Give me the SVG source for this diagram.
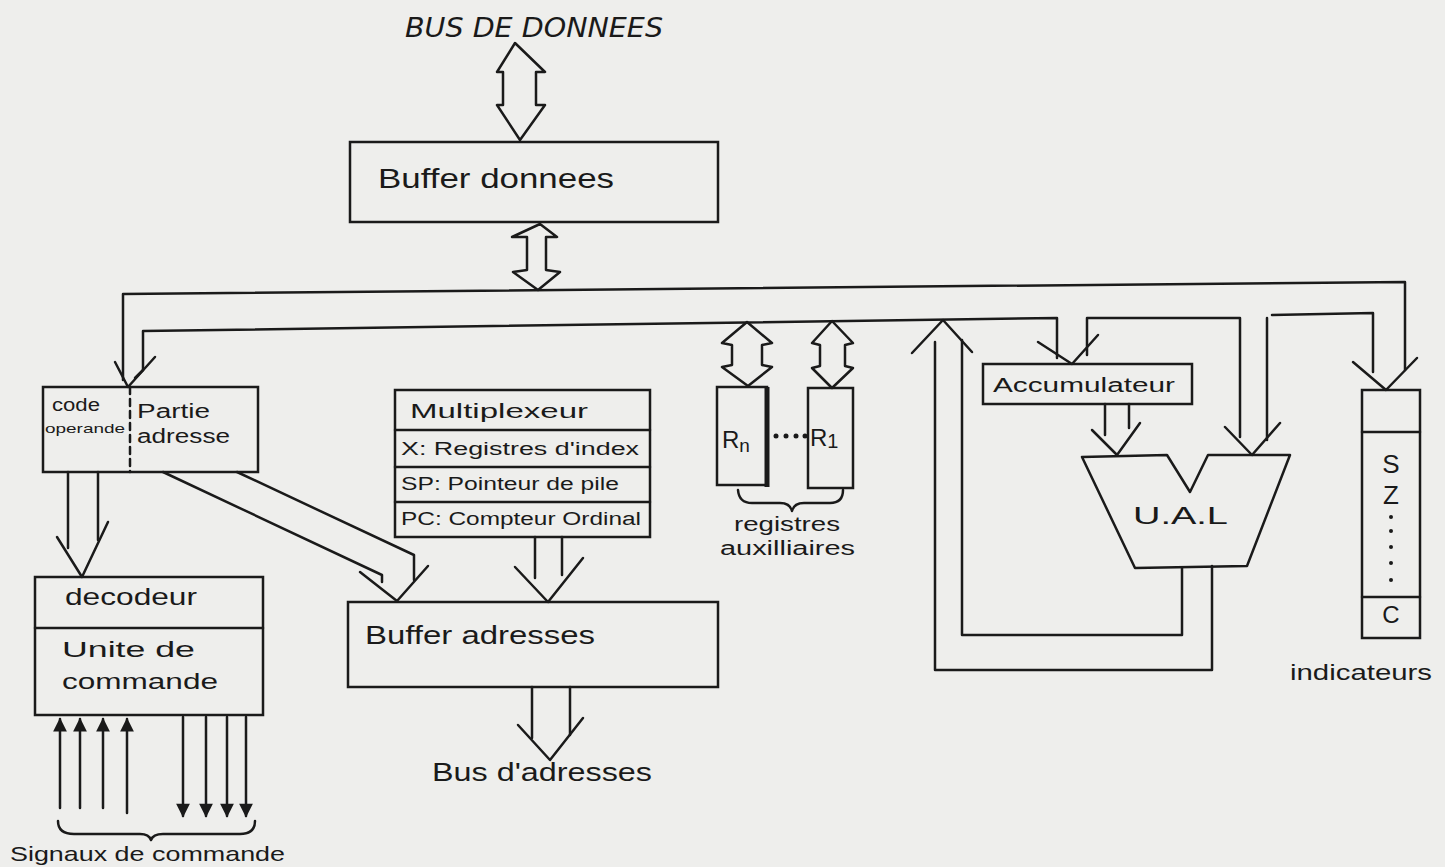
<svg xmlns="http://www.w3.org/2000/svg" width="1445" height="867" viewBox="0 0 1445 867">
<defs>
<style>
.ln{fill:none;stroke:#1a1a1a;stroke-width:2.5;stroke-linejoin:round;stroke-linecap:round}
.bx{fill:none;stroke:#1a1a1a;stroke-width:2.5}
.t{font-family:"Liberation Sans","DejaVu Sans",sans-serif;fill:#1a1a1a}
.it{font-family:"DejaVu Sans","Liberation Sans",sans-serif;font-style:italic;fill:#1a1a1a}
</style>
<marker id="tri" viewBox="0 0 10 10" refX="9" refY="5" markerWidth="6" markerHeight="5.5" orient="auto" markerUnits="strokeWidth">
<path d="M0,0 L10,5 L0,10 Z" fill="#1a1a1a"/>
</marker>
</defs>
<rect width="1445" height="867" fill="#eeeeec"/>

<g id="bus-donnees-label">
<text class="it" x="405" y="37" font-size="27" textLength="258" lengthAdjust="spacingAndGlyphs">BUS DE DONNEES</text>
</g>

<g id="buffer-donnees">
<rect class="bx" x="350" y="142" width="368" height="80"/>
<text class="t" x="378" y="188" font-size="28" textLength="236" lengthAdjust="spacingAndGlyphs">Buffer donnees</text>
</g>

<g id="registre-instruction">
<rect class="bx" x="43" y="387" width="215" height="85"/>
<line class="ln" x1="130" y1="387" x2="130" y2="472" stroke-dasharray="7,5"/>
<text class="t" x="52" y="411" font-size="18" textLength="48" lengthAdjust="spacingAndGlyphs">code</text>
<text class="t" x="45" y="433" font-size="13" textLength="80" lengthAdjust="spacingAndGlyphs">operande</text>
<text class="t" x="137" y="418" font-size="20" textLength="73" lengthAdjust="spacingAndGlyphs">Partie</text>
<text class="t" x="137" y="443" font-size="20" textLength="93" lengthAdjust="spacingAndGlyphs">adresse</text>
</g>

<g id="multiplexeur">
<rect class="bx" x="395" y="390" width="255" height="147"/>
<line class="ln" x1="395" y1="430" x2="650" y2="430"/>
<line class="ln" x1="395" y1="467" x2="650" y2="467"/>
<line class="ln" x1="395" y1="502" x2="650" y2="502"/>
<text class="t" x="410" y="418" font-size="20" textLength="178" lengthAdjust="spacingAndGlyphs">Multiplexeur</text>
<text class="t" x="401" y="455" font-size="18" textLength="238" lengthAdjust="spacingAndGlyphs">X: Registres d'index</text>
<text class="t" x="401" y="490" font-size="18" textLength="218" lengthAdjust="spacingAndGlyphs">SP: Pointeur de pile</text>
<text class="t" x="401" y="525" font-size="18" textLength="240" lengthAdjust="spacingAndGlyphs">PC: Compteur Ordinal</text>
</g>

<g id="registre-rn">
<rect class="bx" x="717" y="387" width="50" height="98"/>
<line x1="767" y1="387" x2="767" y2="487" stroke="#1a1a1a" stroke-width="5"/>
<text class="t" x="722" y="448" font-size="24">R<tspan font-size="19" dy="4">n</tspan></text>
</g>
<g id="registre-dots">
<circle cx="776" cy="436" r="2.5" fill="#1a1a1a"/>
<circle cx="786" cy="436" r="2.5" fill="#1a1a1a"/>
<circle cx="796" cy="436" r="2.5" fill="#1a1a1a"/>
<circle cx="805" cy="436" r="2.5" fill="#1a1a1a"/>
</g>
<g id="registre-r1">
<rect class="bx" x="808" y="388" width="45" height="100"/>
<text class="t" x="810" y="446" font-size="24">R<tspan font-size="20" dy="2">1</tspan></text>
</g>
<g id="registres-auxilliaires-label">
<path class="ln" d="M738,490 Q739,503 752,503 L780,503 Q790,503 792,511 Q794,503 804,503 L830,503 Q843,503 843,490"/>
<text class="t" x="734" y="531" font-size="20" textLength="106" lengthAdjust="spacingAndGlyphs">registres</text>
<text class="t" x="720" y="555" font-size="20" textLength="135" lengthAdjust="spacingAndGlyphs">auxilliaires</text>
</g>

<g id="accumulateur">
<rect class="bx" x="983" y="364" width="209" height="40"/>
<text class="t" x="993" y="392" font-size="20" textLength="182" lengthAdjust="spacingAndGlyphs">Accumulateur</text>
</g>

<g id="ual">
<polygon class="ln" points="1082,457 1167,455 1190,492 1208,455 1290,455 1247,566 1135,568"/>
<text class="t" x="1133" y="524" font-size="24" textLength="95" lengthAdjust="spacingAndGlyphs">U.A.L</text>
</g>

<g id="indicateurs">
<rect class="bx" x="1362" y="390" width="58" height="248"/>
<line class="ln" x1="1362" y1="432" x2="1420" y2="432"/>
<line class="ln" x1="1362" y1="597" x2="1420" y2="597"/>
<text class="t" x="1391" y="473" font-size="26" text-anchor="middle">S</text>
<text class="t" x="1391" y="504" font-size="26" text-anchor="middle">Z</text>
<circle cx="1391" cy="517" r="2" fill="#1a1a1a"/>
<circle cx="1391" cy="531" r="2" fill="#1a1a1a"/>
<circle cx="1391" cy="547" r="2" fill="#1a1a1a"/>
<circle cx="1391" cy="563" r="2" fill="#1a1a1a"/>
<circle cx="1391" cy="580" r="2" fill="#1a1a1a"/>
<text class="t" x="1391" y="623" font-size="24" text-anchor="middle">C</text>
<text class="t" x="1290" y="680" font-size="22" textLength="142" lengthAdjust="spacingAndGlyphs">indicateurs</text>
</g>

<g id="decodeur">
<rect class="bx" x="35" y="577" width="228" height="138"/>
<line class="ln" x1="35" y1="628" x2="263" y2="628"/>
<text class="t" x="65" y="605" font-size="24" textLength="132" lengthAdjust="spacingAndGlyphs">decodeur</text>
<text class="t" x="62" y="657" font-size="22" textLength="133" lengthAdjust="spacingAndGlyphs">Unite de</text>
<text class="t" x="62" y="689" font-size="22" textLength="156" lengthAdjust="spacingAndGlyphs">commande</text>
</g>

<g id="buffer-adresses">
<rect class="bx" x="348" y="602" width="370" height="85"/>
<text class="t" x="365" y="644" font-size="26" textLength="230" lengthAdjust="spacingAndGlyphs">Buffer adresses</text>
</g>

<g id="bus-adresses-label">
<text class="t" x="432" y="781" font-size="26" textLength="220" lengthAdjust="spacingAndGlyphs">Bus d'adresses</text>
</g>

<g id="signaux-commande">
<path class="ln" d="M58,821 Q58,834 74,834 L140,834 Q149,834 151,840 Q153,834 163,834 L240,834 Q255,834 255,821"/>
<text class="t" x="10" y="861" font-size="21" textLength="275" lengthAdjust="spacingAndGlyphs">Signaux de commande</text>
</g>

<g id="connectors">
<polygon class="ln" points="515,43 545,72 536,72 536,105 545,105 520,140 497,105 503,105 503,72 497,72"/>
<polygon class="ln" points="540,224 557,237 546,237 546,270 560,272 538,290 513,272 527,270 527,237 512,237"/>
<polyline class="ln" points="123,380 123,294 1405,282 1405,370"/>
<polyline class="ln" points="143,370 143,331 1057,318 1057,358"/>
<polyline class="ln" points="115,362 128,387 155,357"/>
<line class="ln" x1="143" y1="370" x2="135" y2="378"/>
<polygon class="ln" points="747,322 772,343 762,345 762,365 772,367 748,386 722,367 732,365 732,345 722,343"/>
<polygon class="ln" points="832,321 853,343 845,345 845,366 853,368 832,388 812,368 820,366 820,345 812,343"/>
<polyline class="ln" points="1182,568 1182,635 962,635 962,340"/>
<polyline class="ln" points="1212,566 1212,670 935,670 935,342"/>
<polyline class="ln" points="912,353 943,320 972,352"/>
<polyline class="ln" points="1038,342 1072,364 1098,335"/>
<polyline class="ln" points="1087,355 1087,318 1240,318 1240,437"/>
<polyline class="ln" points="1225,427 1252,455 1280,423"/>
<line class="ln" x1="1267" y1="318" x2="1267" y2="440"/>
<polyline class="ln" points="1272,315 1373,313 1373,372"/>
<polyline class="ln" points="1353,362 1386,390 1417,358"/>
<line class="ln" x1="1105" y1="404" x2="1105" y2="435"/>
<line class="ln" x1="1129" y1="404" x2="1129" y2="428"/>
<polyline class="ln" points="1092,430 1117,455 1140,423"/>
<line class="ln" x1="68" y1="472" x2="68" y2="548"/>
<line class="ln" x1="98" y1="472" x2="98" y2="540"/>
<polyline class="ln" points="57,537 82,577 108,522"/>
<polyline class="ln" points="163,472 382,575 382,582"/>
<polyline class="ln" points="237,472 414,555 414,580"/>
<polyline class="ln" points="360,572 397,601 428,566"/>
<line class="ln" x1="535" y1="537" x2="535" y2="578"/>
<line class="ln" x1="562" y1="537" x2="562" y2="575"/>
<polyline class="ln" points="515,567 548,602 583,558"/>
<line class="ln" x1="532" y1="687" x2="532" y2="738"/>
<line class="ln" x1="570" y1="687" x2="570" y2="735"/>
<polyline class="ln" points="518,725 550,760 583,718"/>
<line class="ln" x1="60" y1="808" x2="60" y2="719" marker-end="url(#tri)"/>
<line class="ln" x1="80" y1="808" x2="80" y2="719" marker-end="url(#tri)"/>
<line class="ln" x1="103" y1="808" x2="103" y2="719" marker-end="url(#tri)"/>
<line class="ln" x1="127" y1="813" x2="127" y2="719" marker-end="url(#tri)"/>
<line class="ln" x1="183" y1="717" x2="183" y2="816" marker-end="url(#tri)"/>
<line class="ln" x1="206" y1="717" x2="206" y2="816" marker-end="url(#tri)"/>
<line class="ln" x1="227" y1="717" x2="227" y2="816" marker-end="url(#tri)"/>
<line class="ln" x1="246" y1="717" x2="246" y2="816" marker-end="url(#tri)"/>
</g>
</svg>
